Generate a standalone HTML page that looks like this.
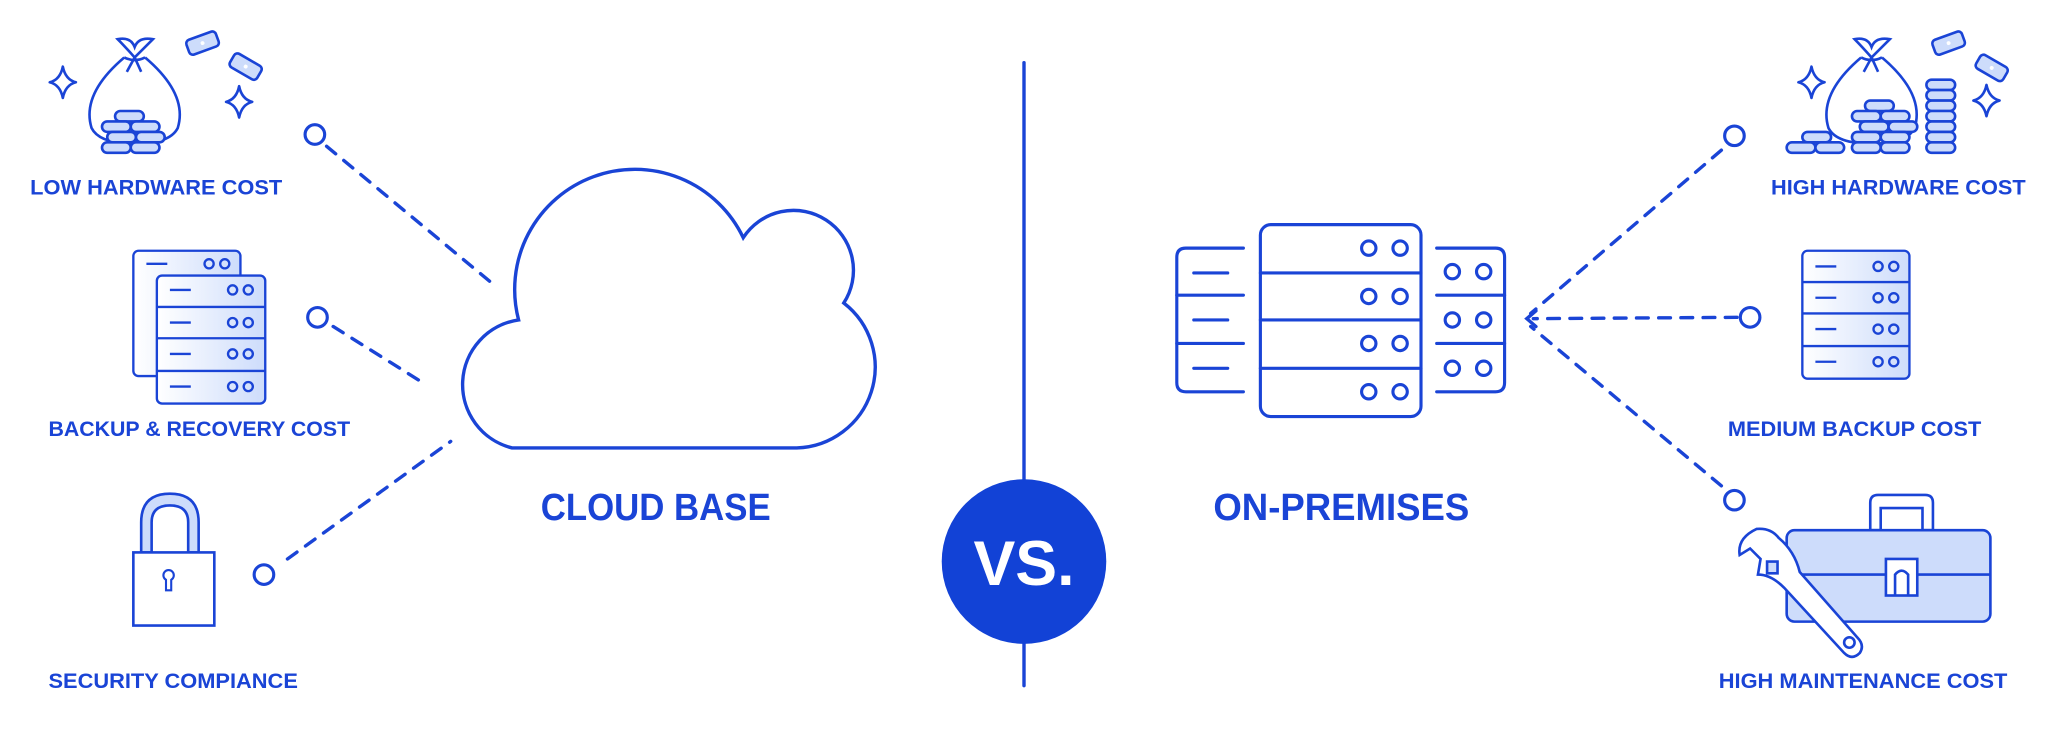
<!DOCTYPE html>
<html><head><meta charset="utf-8"><style>
html,body{margin:0;padding:0;background:#fff;}
svg{display:block}
text{font-family:"Liberation Sans",sans-serif;font-weight:700;fill:#1a44d6}
</style></head><body>
<svg width="2048" height="747" viewBox="0 0 1568 572" xmlns="http://www.w3.org/2000/svg">
<defs>
<linearGradient id="g" x1="0" x2="1" y1="0" y2="0"><stop offset="0" stop-color="#fff"/><stop offset="1" stop-color="#cddcfb"/></linearGradient>
<g id="coin"><rect x="0" y="0" width="22" height="8" rx="4" fill="#cddcfb" stroke="#1a44d6" stroke-width="2"/></g>
<path id="star" d="M0,-12 Q2,-2 10,0 Q2,2 0,12 Q-2,2 -10,0 Q-2,-2 0,-12Z" fill="none" stroke="#1a44d6" stroke-width="2" stroke-linejoin="round"/>
<g id="bill"><rect x="-12" y="-6" width="24" height="12" rx="3" fill="#cddcfb" stroke="#1a44d6" stroke-width="2"/><circle r="1.5" fill="#fff"/></g>
</defs>
<g stroke="#1a44d6" stroke-width="2.4" fill="none" stroke-linecap="round">
<line x1="784" y1="48" x2="784" y2="525" stroke-width="2.6"/>
<path d="M397,245 A92,92 0 0 1 569,182 A40,40 0 0 1 646,232 A62,62 0 0 1 610,343 L392,343 A50,50 0 0 1 397,245 Z" stroke-width="2.6"/>
<g stroke-dasharray="9,8" stroke-width="2.6">
<line x1="250" y1="112" x2="378" y2="218"/>
<line x1="255" y1="250" x2="322" y2="292"/>
<line x1="220" y1="428" x2="345" y2="338"/>
<line x1="1318" y1="115" x2="1172" y2="240"/>
<line x1="1330" y1="243" x2="1174" y2="244"/>
<line x1="1318" y1="372" x2="1172" y2="250"/>
</g>
<path d="M1176,238 L1169,244 L1176,250" stroke-width="2.6"/>
<circle cx="241" cy="103" r="7.5"/><circle cx="243" cy="243" r="7.5"/><circle cx="202" cy="440" r="7.5"/>
<circle cx="1328" cy="104" r="7.5"/><circle cx="1340" cy="243" r="7.5"/><circle cx="1328" cy="383" r="7.5"/>
<rect x="965" y="172" width="123" height="147" rx="8"/>
<line x1="965" y1="209" x2="1088" y2="209"/><line x1="965" y1="245" x2="1088" y2="245"/><line x1="965" y1="282" x2="1088" y2="282"/>
<g><circle cx="1048" cy="190" r="5.5"/><circle cx="1072" cy="190" r="5.5"/><circle cx="1048" cy="227" r="5.5"/><circle cx="1072" cy="227" r="5.5"/><circle cx="1048" cy="263" r="5.5"/><circle cx="1072" cy="263" r="5.5"/><circle cx="1048" cy="300" r="5.5"/><circle cx="1072" cy="300" r="5.5"/></g>
<path d="M952,190 L908,190 Q901,190 901,197 L901,293 Q901,300 908,300 L952,300"/>
<line x1="901" y1="226" x2="952" y2="226"/><line x1="901" y1="263" x2="952" y2="263"/>
<line x1="914" y1="209" x2="940" y2="209"/><line x1="914" y1="245" x2="940" y2="245"/><line x1="914" y1="282" x2="940" y2="282"/>
<path d="M1100,190 L1145,190 Q1152,190 1152,197 L1152,293 Q1152,300 1145,300 L1100,300"/>
<line x1="1100" y1="226" x2="1152" y2="226"/><line x1="1100" y1="263" x2="1152" y2="263"/>
<circle cx="1112" cy="208" r="5.5"/><circle cx="1136" cy="208" r="5.5"/><circle cx="1112" cy="245" r="5.5"/><circle cx="1136" cy="245" r="5.5"/><circle cx="1112" cy="282" r="5.5"/><circle cx="1136" cy="282" r="5.5"/>
</g>
<circle cx="784" cy="430" r="63" fill="#1242d6"/>
<text x="784" y="448" text-anchor="middle" font-size="48" style="fill:#fff;font-weight:800">VS.</text>
<text x="502" y="398" text-anchor="middle" font-size="29" textLength="176" lengthAdjust="spacingAndGlyphs">CLOUD BASE</text>
<text x="1027" y="398" text-anchor="middle" font-size="29" textLength="196" lengthAdjust="spacingAndGlyphs">ON-PREMISES</text>
<g font-size="16">
<text x="23" y="149" textLength="193" lengthAdjust="spacingAndGlyphs">LOW HARDWARE COST</text>
<text x="37" y="334" textLength="231" lengthAdjust="spacingAndGlyphs">BACKUP &amp; RECOVERY COST</text>
<text x="37" y="527" textLength="191" lengthAdjust="spacingAndGlyphs">SECURITY COMPIANCE</text>
<text x="1356" y="149" textLength="195" lengthAdjust="spacingAndGlyphs">HIGH HARDWARE COST</text>
<text x="1323" y="334" textLength="194" lengthAdjust="spacingAndGlyphs">MEDIUM BACKUP COST</text>
<text x="1316" y="527" textLength="221" lengthAdjust="spacingAndGlyphs">HIGH MAINTENANCE COST</text>
</g>
<g stroke="#1a44d6" stroke-width="2" fill="none">
<path d="M95,44 Q62,72 70,98 Q76,110 103,110 Q130,110 136,98 Q144,72 111,44"/>
<path d="M95,44 Q103,48 111,44 M103,44 Q95,35 90,30 Q100,28 103,36 Q106,28 117,30 Q111,36 103,44 M103,44 L97,55 M103,44 L108,55"/>
</g>
<g transform="translate(88,85)"><use href="#coin"/></g>
<g transform="translate(78,93)"><use href="#coin"/></g><g transform="translate(100,93)"><use href="#coin"/></g>
<g transform="translate(82,101)"><use href="#coin"/></g><g transform="translate(104,101)"><use href="#coin"/></g>
<g transform="translate(78,109)"><use href="#coin"/></g><g transform="translate(100,109)"><use href="#coin"/></g>
<use href="#star" transform="translate(48,63)"/><use href="#star" transform="translate(183,78)"/>
<use href="#bill" transform="translate(155,33) rotate(-20)"/><use href="#bill" transform="translate(188,51) rotate(30)"/>
<g stroke="#1a44d6" stroke-width="1.8">
<rect x="102" y="192" width="82" height="96" rx="4" fill="url(#g)"/>
<rect x="120" y="211" width="83" height="98" rx="4" fill="url(#g)"/>
<line x1="120" y1="235" x2="203" y2="235"/><line x1="120" y1="259" x2="203" y2="259"/><line x1="120" y1="284" x2="203" y2="284"/>
<line x1="130" y1="222" x2="146" y2="222"/><line x1="130" y1="247" x2="146" y2="247"/><line x1="130" y1="271" x2="146" y2="271"/><line x1="130" y1="296" x2="146" y2="296"/>
<line x1="112" y1="202" x2="128" y2="202"/>
<g fill="none"><circle cx="178" cy="222" r="3.5"/><circle cx="190" cy="222" r="3.5"/><circle cx="178" cy="247" r="3.5"/><circle cx="190" cy="247" r="3.5"/><circle cx="178" cy="271" r="3.5"/><circle cx="190" cy="271" r="3.5"/><circle cx="178" cy="296" r="3.5"/><circle cx="190" cy="296" r="3.5"/><circle cx="160" cy="202" r="3.5"/><circle cx="172" cy="202" r="3.5"/></g>
</g>
<g stroke="#1a44d6" stroke-width="2">
<path d="M108,423 L108,400 Q108,378 130,378 Q152,378 152,400 L152,423 L144,423 L144,400 Q144,387 130,387 Q116,387 116,400 L116,423 Z" fill="#cddcfb"/>
<rect x="102" y="423" width="62" height="56" fill="#fff"/>
<path d="M131,444 a4,4 0 1 0 -4,0 v8 h4 Z" fill="none" stroke-width="1.6"/>
</g>
<g stroke="#1a44d6" stroke-width="2" fill="none">
<path d="M1425,44 Q1392,72 1400,98 Q1406,110 1433,110 Q1460,110 1466,98 Q1474,72 1441,44"/>
<path d="M1425,44 Q1433,48 1441,44 M1433,44 Q1425,35 1420,30 Q1430,28 1433,36 Q1436,28 1447,30 Q1441,36 1433,44 M1433,44 L1427,55 M1433,44 L1438,55"/>
</g>
<g transform="translate(1428,77)"><use href="#coin"/></g>
<g transform="translate(1418,85)"><use href="#coin"/></g><g transform="translate(1440,85)"><use href="#coin"/></g>
<g transform="translate(1424,93)"><use href="#coin"/></g><g transform="translate(1446,93)"><use href="#coin"/></g>
<g transform="translate(1418,101)"><use href="#coin"/></g><g transform="translate(1440,101)"><use href="#coin"/></g>
<g transform="translate(1418,109)"><use href="#coin"/></g><g transform="translate(1440,109)"><use href="#coin"/></g>
<g transform="translate(1475,61)"><use href="#coin"/></g><g transform="translate(1475,69)"><use href="#coin"/></g><g transform="translate(1475,77)"><use href="#coin"/></g><g transform="translate(1475,85)"><use href="#coin"/></g><g transform="translate(1475,93)"><use href="#coin"/></g><g transform="translate(1475,101)"><use href="#coin"/></g><g transform="translate(1475,109)"><use href="#coin"/></g>
<g transform="translate(1380,101)"><use href="#coin"/></g><g transform="translate(1368,109)"><use href="#coin"/></g><g transform="translate(1390,109)"><use href="#coin"/></g>
<use href="#star" transform="translate(1387,63)"/><use href="#star" transform="translate(1521,77)"/>
<use href="#bill" transform="translate(1492,33) rotate(-20)"/><use href="#bill" transform="translate(1525,52) rotate(30)"/>
<g stroke="#1a44d6" stroke-width="1.8">
<rect x="1380" y="192" width="82" height="98" rx="4" fill="url(#g)"/>
<line x1="1380" y1="216" x2="1462" y2="216"/><line x1="1380" y1="240" x2="1462" y2="240"/><line x1="1380" y1="265" x2="1462" y2="265"/>
<line x1="1390" y1="204" x2="1406" y2="204"/><line x1="1390" y1="228" x2="1406" y2="228"/><line x1="1390" y1="252" x2="1406" y2="252"/><line x1="1390" y1="277" x2="1406" y2="277"/>
<g fill="none"><circle cx="1438" cy="204" r="3.5"/><circle cx="1450" cy="204" r="3.5"/><circle cx="1438" cy="228" r="3.5"/><circle cx="1450" cy="228" r="3.5"/><circle cx="1438" cy="252" r="3.5"/><circle cx="1450" cy="252" r="3.5"/><circle cx="1438" cy="277" r="3.5"/><circle cx="1450" cy="277" r="3.5"/></g>
</g>
<g stroke="#1a44d6" stroke-width="2">
<path d="M1432,406 L1432,385 Q1432,379 1438,379 L1474,379 Q1480,379 1480,385 L1480,406 L1472,406 L1472,389 L1440,389 L1440,406Z" fill="#fff"/>
<rect x="1368" y="406" width="156" height="70" rx="6" fill="#cddcfb"/>
<line x1="1368" y1="440" x2="1524" y2="440"/>
<rect x="1444" y="428" width="24" height="28" fill="#fff"/>
<path d="M1451,456 L1451,440 Q1456,434 1461,440 L1461,456" fill="none"/>
<path d="M1345,405 Q1330,412 1332,425 L1340,420 L1348,428 L1346,440 Q1356,440 1366,450 L1412,500 Q1418,506 1424,500 Q1428,494 1422,488 L1378,438 Q1374,422 1362,412 Q1356,404 1345,405Z" fill="#fff"/>
<circle cx="1416" cy="492" r="4" fill="none"/>
<rect x="1353" y="430" width="8" height="9" fill="#cddcfb"/>
</g>
</svg>
</body></html>
